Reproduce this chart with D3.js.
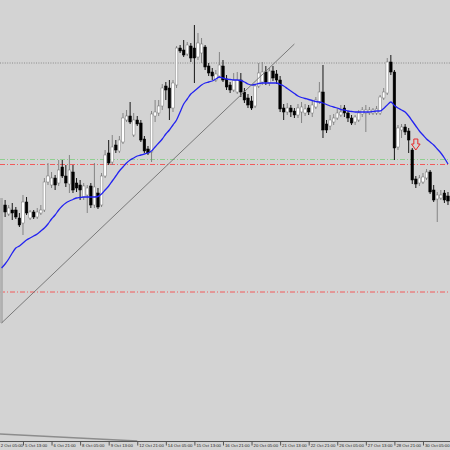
<!DOCTYPE html>
<html><head><meta charset="utf-8">
<script src="https://cdn.jsdelivr.net/npm/d3@7"></script>
<style>html,body{margin:0;padding:0;background:#d3d3d3;} svg{display:block;}</style>
</head><body>
<svg id="chart" width="450" height="450"></svg>
<script>
// ---- data (H4 bars, first visible bar index = 2) ----
const firstBar = 2;
const opens  = [178,295,286,290,290,282,277,298,282,288,283,287,290,318,315,322,317,333,324,316,328,317,315,303,305,314,295,307,295,324,347,338,355,349,358,380,384,365,380,377,361,351,348,384,387,394,414,412,392,415,452,450,446,454,452,443,447,453,434,428,420,424,434,421,415,410,408,420,408,402,399,394,414,418,428,417,429,426,420,392,388,392,389,385,388,387,392,387,393,398,408,376,374,378,382,385,392,387,382,378,380,386,387,387,387,387,387,402,407,438,428,353,370,373,369,350,321,317,318,322,328,310,301,302,307,304];
const highs  = [302,300,295,297,293,287,305,303,290,290,292,295,322,337,328,325,340,340,335,345,335,322,320,317,315,317,337,312,327,350,360,365,360,364,387,390,398,387,384,380,364,354,389,400,400,416,418,420,420,454,455,460,458,457,475,467,462,455,437,432,430,448,440,425,418,427,428,427,412,406,404,416,437,438,434,432,434,430,424,396,397,395,392,396,398,396,395,399,403,418,435,380,385,386,392,395,395,389,385,385,390,393,395,393,392,394,405,412,442,445,430,375,376,376,372,352,324,325,327,331,330,315,308,310,310,308];
const lows   = [177,283,284,280,281,273,265,285,280,281,281,285,288,315,312,310,314,322,313,307,307,308,300,300,287,292,292,291,293,322,335,335,347,347,356,378,376,363,374,358,347,345,338,378,384,390,400,380,388,412,447,443,444,438,417,440,437,430,424,420,418,422,418,410,407,408,406,403,397,392,390,392,412,415,415,414,419,416,388,380,385,383,382,382,377,384,385,383,391,396,362,367,370,375,380,383,383,378,375,375,378,383,368,385,385,385,385,400,405,425,340,350,362,365,347,316,312,314,316,320,306,298,278,300,297,295];
const closes = [300,288,292,287,283,275,298,287,288,283,288,290,318,324,322,315,330,324,317,330,310,312,310,314,312,295,313,293,324,345,337,353,350,360,382,384,378,380,376,360,349,347,386,388,394,412,410,392,417,452,449,445,455,442,442,457,456,433,427,424,426,435,420,413,410,420,420,408,400,395,392,414,427,428,418,429,422,420,391,388,392,388,385,392,393,391,388,395,400,408,370,370,380,382,387,388,387,382,377,383,387,390,390,390,390,391,403,408,438,428,352,372,373,368,360,320,316,322,323,328,308,300,305,305,300,299];
const maValues = [232,236,241,247,252,254,257,260,262,264,266,269,272,276,281,285,290,294,297,299,300.5,302,302.5,303,303,303,303,303.5,306,310,314,319,324,329,333,337,340,342,344,345,346,347,349,353,357,361,366,370,375,380,388,396,401,406,409,412,415,417,418,419,421,423,422,421,420.5,420,420,419.5,418,416,415,415.5,416.5,417,417,417,417,417,415.5,414,411.5,409,406.5,404,402.5,401.5,400.5,399.5,398.5,398,397,395.5,394,393,392,390.5,390,389,388.5,388,388,388,388,388,388.5,389,389,391.5,395,398,394.5,392,390,388,384,379,374,369,365,361,358,355,351,347,342,336];
const tickBars = [0,8,16,24,32,40,48,56,64,72,80,88,96,104,112,120];
const tickLabels = ["2 Oct 05:00","5 Oct 13:00","6 Oct 21:00","8 Oct 05:00","9 Oct 13:00","12 Oct 21:00","14 Oct 05:00","15 Oct 13:00","16 Oct 21:00","20 Oct 05:00","21 Oct 13:00","22 Oct 21:00","26 Oct 05:00","27 Oct 13:00","28 Oct 21:00","30 Oct 05:00"];
const dottedLevel = 437;
const greenLevel = 340.5;
const redLevels = [335.5, 208];
const trendLine = [[2, 177], [84, 456]];
const lowerLine = [[0, 66.3], [40, 59]];
const arrowBar = 118, arrowPrice = 350;
const highlightBar = 2;

// ---- scales ----
const W = 450, H = 450, axisY = 441;
const x = d3.scaleLinear().domain([0, 126]).range([-5.6, 444.4]);
const y = d3.scaleLinear().domain([500, 50]).range([0, 450]);
const svg = d3.select("#chart");
svg.append("rect").attr("width", W).attr("height", H).attr("fill", "#d3d3d3");

const candles = opens.map((o, k) => ({i: firstBar + k, o, h: highs[k], l: lows[k], c: closes[k]}));

// horizontal levels
const hl = svg.append("g");
hl.append("line").attr("x1", 0).attr("x2", W).attr("y1", y(dottedLevel)).attr("y2", y(dottedLevel))
  .attr("stroke", "#8a8a8a").attr("stroke-width", 1).attr("stroke-dasharray", "1,1.4");
hl.append("line").attr("x1", 0).attr("x2", W).attr("y1", y(greenLevel)).attr("y2", y(greenLevel))
  .attr("stroke", "#8fcf8f").attr("stroke-width", 1).attr("stroke-dasharray", "5,2,1,2");
redLevels.forEach(v => hl.append("line").attr("x1", 0).attr("x2", W).attr("y1", y(v)).attr("y2", y(v))
  .attr("stroke", "#f25a5a").attr("stroke-width", 1).attr("stroke-dasharray", "5,2,1,2"));

// candles
const bw = 2.6;
const cg = svg.append("g");
candles.forEach(d => {
  const cx = x(d.i), bull = d.c >= d.o;
  if (d.i === highlightBar) {
    cg.append("rect").attr("x", cx - 1.4).attr("y", y(d.h)).attr("width", 2.8)
      .attr("height", y(d.l) - y(d.h)).attr("fill", "#b0b0b0");
    return;
  }
  const col = bull ? "#7a7a7a" : "#000";
  cg.append("line").attr("x1", cx).attr("x2", cx).attr("y1", y(d.h)).attr("y2", y(d.l))
    .attr("stroke", col).attr("stroke-width", 0.9);
  const top = y(Math.max(d.o, d.c)), bot = y(Math.min(d.o, d.c));
  cg.append("rect").attr("x", cx - bw / 2).attr("y", top).attr("width", bw)
    .attr("height", Math.max(0.8, bot - top))
    .attr("fill", bull ? "#fff" : "#000")
    .attr("stroke", bull ? "#7a7a7a" : "#000").attr("stroke-width", 0.5);
});

// moving average
const maLine = d3.line().x((d, k) => x(firstBar + k)).y(d => y(d)).curve(d3.curveMonotoneX);
svg.append("path").attr("d", maLine(maValues)).attr("fill", "none")
  .attr("stroke", "#2323f0").attr("stroke-width", 1.3);

// trend lines
svg.append("line").attr("x1", x(trendLine[0][0])).attr("y1", y(trendLine[0][1]))
  .attr("x2", x(trendLine[1][0])).attr("y2", y(trendLine[1][1]))
  .attr("stroke", "#6e6e6e").attr("stroke-width", 0.9);
svg.append("line").attr("x1", x(lowerLine[0][0])).attr("y1", y(lowerLine[0][1]))
  .attr("x2", x(lowerLine[1][0])).attr("y2", y(lowerLine[1][1]))
  .attr("stroke", "#8c8c8c").attr("stroke-width", 1.4);

// sell arrow
const ax = x(arrowBar), ay = y(arrowPrice);
const pts = [[ax - 2, ay - 11], [ax + 2, ay - 11], [ax + 2, ay - 6], [ax + 4.3, ay - 6], [ax, ay],
             [ax - 4.3, ay - 6], [ax - 2, ay - 6]];
svg.append("polygon").attr("points", pts.map(p => p.join(",")).join(" "))
  .attr("fill", "none").attr("stroke", "#e8282a").attr("stroke-width", 1);

// time axis
svg.append("rect").attr("x", 0).attr("y", axisY).attr("width", W).attr("height", H - axisY).attr("fill", "#d3d3d3");
svg.append("line").attr("x1", 0).attr("x2", W).attr("y1", axisY + 0.5).attr("y2", axisY + 0.5)
  .attr("stroke", "#555").attr("stroke-width", 1);
const axis = d3.axisBottom(x).tickValues(tickBars).tickFormat((d, k) => tickLabels[k])
  .tickSize(4).tickSizeOuter(0);
const ag = svg.append("g").attr("transform", `translate(0,${axisY + 0.5})`).call(axis);
ag.select(".domain").remove();
ag.selectAll(".tick line").attr("stroke", "#555");
ag.selectAll(".tick text").attr("text-anchor", "start")
  .attr("x", d => Math.max(1.5, 0.3 - x(d)))
  .attr("y", 2.2)
  .attr("fill", "#222").style("font-family", "'Liberation Sans', Arial, sans-serif").style("font-size", "4.3px");
</script>
</body></html>
